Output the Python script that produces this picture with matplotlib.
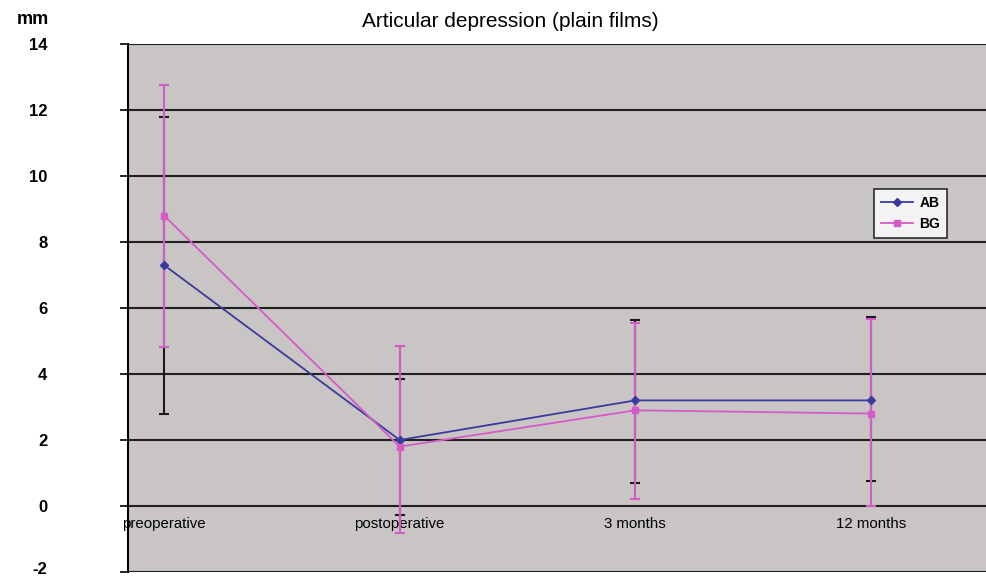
import matplotlib.pyplot as plt
import matplotlib.transforms as mtransforms
import numpy as np

plt.rcParams["font.family"] = ["Liberation Sans", "DejaVu Sans"]

categories = ["preoperative", "postoperative", "3 months", "12 months"]
ab_mean = [7.3, 2.0, 3.2, 3.2]
ab_low = [2.8, -0.27, 0.7, 0.76]
ab_high = [11.8, 3.85, 5.65, 5.73]
bg_mean = [8.8, 1.8, 2.9, 2.8]
bg_low = [4.82, -0.82, 0.2, 0.0]
bg_high = [12.76, 4.85, 5.55, 5.67]

x = np.arange(len(categories))
ab_mean = np.array(ab_mean)
bg_mean = np.array(bg_mean)
ab_err = [ab_mean - np.array(ab_low), np.array(ab_high) - ab_mean]
bg_err = [bg_mean - np.array(bg_low), np.array(bg_high) - bg_mean]

fig = plt.figure(figsize=(9.86, 5.77), dpi=100)
ax = fig.add_axes([0.1298, 0.0087, 0.8702, 0.915])
ax.set_facecolor("#c9c5c5")

ax.errorbar(x, ab_mean, yerr=ab_err, fmt="none", ecolor="#1a1a1a",
            elinewidth=1.5, capsize=3.5, capthick=1.5, zorder=3)
ax.errorbar(x, bg_mean, yerr=bg_err, fmt="none", ecolor="#d659c8",
            elinewidth=1.5, capsize=3.5, capthick=1.5, zorder=4)
ax.plot(x, ab_mean, color="#3a3a9e", marker="D", markersize=4,
        linewidth=1.3, label="AB", zorder=5)
ax.plot(x, bg_mean, color="#d659c8", marker="s", markersize=4,
        linewidth=1.3, label="BG", zorder=5)

ax.set_xlim(-0.153, 3.488)
ax.set_ylim(-2, 14)
ax.set_yticks(range(-2, 15, 2))
ax.yaxis.grid(True, color="#202020", linewidth=1.5)
ax.set_axisbelow(True)
ax.set_xticks(x)

ax.spines["bottom"].set_position(("data", 0))
ax.spines["bottom"].set_visible(False)
ax.tick_params(axis="x", length=0, pad=8, labelsize=10.8)
ax.tick_params(axis="y", length=6, width=1.2, pad=52, labelsize=12)
ax.set_xticklabels(categories)
ax.set_yticklabels([str(v) for v in range(-2, 15, 2)], fontweight="bold", ha="right")
# nudge the bottom label up so it is not clipped
low = ax.get_yticklabels()[0]
low.set_transform(low.get_transform() + mtransforms.ScaledTranslation(0, 3 / 72, fig.dpi_scale_trans))
ax.spines["top"].set_visible(False)
ax.spines["right"].set_visible(False)
ax.spines["left"].set_linewidth(1.5)

fig.text(0.518, 0.962, "Articular depression (plain films)", ha="center",
         va="center", fontsize=15)
fig.text(0.033, 0.966, "mm", ha="center", va="center", fontsize=13, fontweight="bold")

leg = ax.legend(loc="upper left", bbox_to_anchor=(0.861, 0.738), fontsize=10,
                frameon=True, fancybox=False, edgecolor="black",
                handlelength=2.3, borderpad=0.5, labelspacing=0.5,
                handletextpad=0.5)
leg.get_frame().set_linewidth(1.2)
for t in leg.get_texts():
    t.set_fontweight("bold")

plt.savefig("out.png", dpi=100)
